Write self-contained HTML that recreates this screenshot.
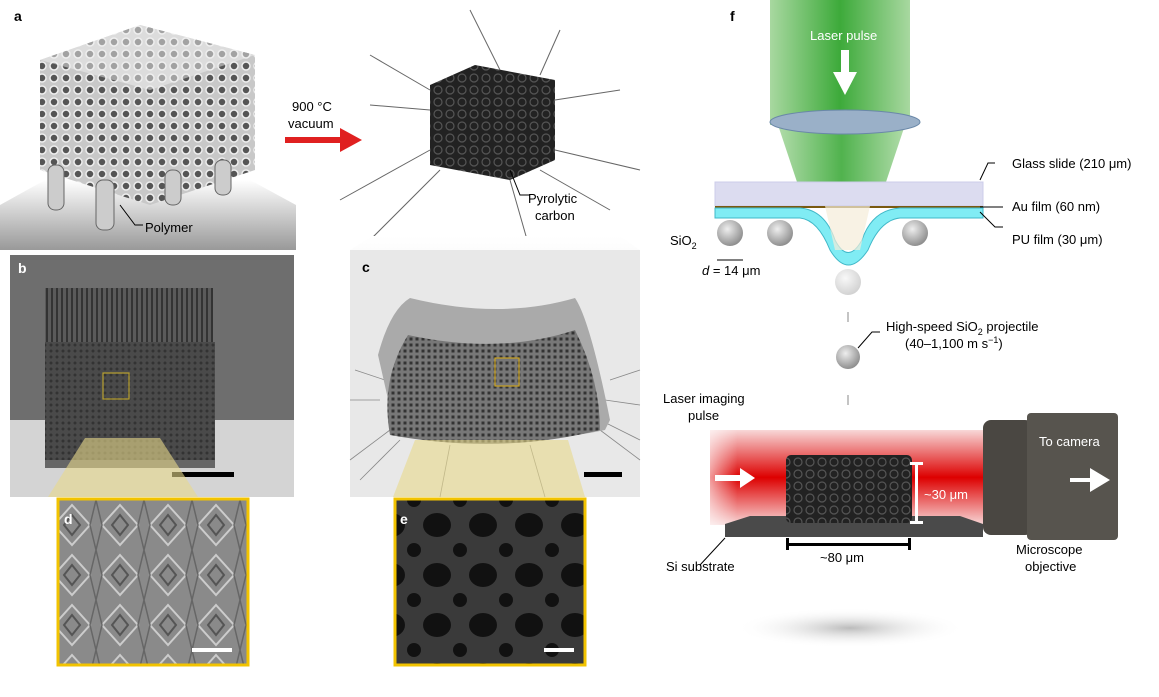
<!DOCTYPE html>
<html><head><meta charset="utf-8"><style>
html,body{margin:0;padding:0;background:#fff;}
svg{display:block;font-family:"Liberation Sans",Arial,sans-serif;}
</style></head><body>
<svg width="1159" height="697" viewBox="0 0 1159 697" xmlns="http://www.w3.org/2000/svg">
<defs>
<linearGradient id="fade" x1="0" y1="0" x2="0" y2="1"><stop offset="0" stop-color="#fff"/><stop offset="1" stop-color="#999"/></linearGradient>
<linearGradient id="fadec" x1="0" y1="0" x2="0" y2="1"><stop offset="0" stop-color="#fff"/><stop offset="1" stop-color="#ccc"/></linearGradient>
<linearGradient id="green" x1="0" y1="0" x2="1" y2="0"><stop offset="0" stop-color="#a8d8a0"/><stop offset="0.5" stop-color="#3daa3a"/><stop offset="1" stop-color="#a8d8a0"/></linearGradient>
<linearGradient id="red" x1="0" y1="0" x2="0" y2="1"><stop offset="0" stop-color="#f8d8d8"/><stop offset="0.5" stop-color="#dd0000"/><stop offset="1" stop-color="#f8d8d8"/></linearGradient>
<linearGradient id="redL" x1="0" y1="0" x2="1" y2="0"><stop offset="0" stop-color="#fff" stop-opacity="0.6"/><stop offset="0.1" stop-color="#fff" stop-opacity="0"/></linearGradient>
<radialGradient id="ball" cx="0.4" cy="0.35" r="0.7"><stop offset="0" stop-color="#eee"/><stop offset="1" stop-color="#888"/></radialGradient>
<radialGradient id="shadow" cx="0.5" cy="0.5" r="0.5"><stop offset="0" stop-color="#bbb"/><stop offset="1" stop-color="#fff" stop-opacity="0"/></radialGradient>
<pattern id="latL" width="12" height="12" patternUnits="userSpaceOnUse"><rect width="12" height="12" fill="#c8c8c8"/><circle cx="6" cy="6" r="4" fill="#555" stroke="#eee" stroke-width="1.5"/></pattern>
<pattern id="latD" width="6" height="6" patternUnits="userSpaceOnUse"><rect width="6" height="6" fill="#4a4a4a"/><circle cx="3" cy="3" r="1.5" fill="#333"/></pattern>
<pattern id="latV" width="5" height="6" patternUnits="userSpaceOnUse"><rect width="5" height="6" fill="#5a5a5a"/><rect x="1" width="2" height="6" fill="#333"/></pattern>
<pattern id="latK" width="12" height="12" patternUnits="userSpaceOnUse"><rect width="12" height="12" fill="#222"/><circle cx="6" cy="6" r="4" fill="none" stroke="#555" stroke-width="1.2"/></pattern>
<pattern id="latC" width="6" height="6" patternUnits="userSpaceOnUse"><rect width="6" height="6" fill="#777"/><rect x="1.5" y="1.5" width="3" height="3" fill="#333"/></pattern>
<pattern id="dpat" width="48" height="50" patternUnits="userSpaceOnUse"><rect width="48" height="50" fill="#8a8a8a"/><path d="M24 5 L42 25 L24 45 L6 25Z" fill="none" stroke="#ccc" stroke-width="2"/><path d="M24 15 L32 25 L24 35 L16 25Z" fill="none" stroke="#555" stroke-width="2"/><path d="M0 0 L6 25 L0 50 M48 0 L42 25 L48 50" fill="none" stroke="#666" stroke-width="1.5"/></pattern>
<pattern id="epat" width="46" height="50" patternUnits="userSpaceOnUse"><rect width="46" height="50" fill="#3a3a3a"/><ellipse cx="23" cy="25" rx="14" ry="12" fill="#111"/><ellipse cx="0" cy="0" rx="7" ry="7" fill="#111"/><ellipse cx="46" cy="0" rx="7" ry="7" fill="#111"/><ellipse cx="0" cy="50" rx="7" ry="7" fill="#111"/><ellipse cx="46" cy="50" rx="7" ry="7" fill="#111"/></pattern>
</defs>

<!-- panel a -->
<polygon points="0,250 296,250 296,205 250,180 45,180 0,205" fill="url(#fade)"/>
<polygon points="40,60 140,25 255,55 255,170 150,205 40,170" fill="url(#latL)"/>
<polygon points="40,60 140,25 255,55 150,90" fill="#f0f0f0" opacity="0.5"/>
<g fill="#ccc" stroke="#666"><rect x="48" y="165" width="16" height="45" rx="7"/><rect x="96" y="180" width="18" height="50" rx="7"/><rect x="215" y="160" width="16" height="35" rx="7"/><rect x="165" y="170" width="16" height="35" rx="7"/></g>
<text x="14" y="21" font-size="14" font-weight="bold">a</text>
<polyline points="120,205 135,225 143,225" fill="none" stroke="#000" stroke-width="1"/>
<text x="145" y="232" font-size="13">Polymer</text>

<text x="292" y="111" font-size="13">900 °C</text>
<text x="288" y="128" font-size="13">vacuum</text>
<polygon points="285,137 340,137 340,128 362,140 340,152 340,143 285,143" fill="#e02020"/>

<!-- black cube -->
<g stroke="#666" stroke-width="1">
<line x1="430" y1="90" x2="370" y2="55"/><line x1="500" y1="70" x2="470" y2="10"/><line x1="540" y1="75" x2="560" y2="30"/><line x1="555" y1="100" x2="620" y2="90"/><line x1="555" y1="150" x2="640" y2="170"/><line x1="440" y1="170" x2="370" y2="240"/><line x1="430" y1="150" x2="340" y2="200"/><line x1="510" y1="180" x2="530" y2="250"/><line x1="540" y1="170" x2="610" y2="210"/><line x1="430" y1="110" x2="370" y2="105"/></g>
<polygon points="430,85 475,65 555,80 555,160 510,180 430,165" fill="url(#latK)"/>
<polyline points="510,170 520,195 530,195" fill="none" stroke="#000"/>
<text x="528" y="203" font-size="13">Pyrolytic</text>
<text x="535" y="220" font-size="13">carbon</text>

<!-- panel b -->
<rect x="10" y="255" width="284" height="242" fill="#6e6e6e"/>
<rect x="10" y="420" width="284" height="77" fill="#d4d4d4"/>
<rect x="45" y="288" width="168" height="55" fill="url(#latV)"/>
<rect x="45" y="342" width="170" height="118" fill="url(#latD)"/>
<rect x="45" y="460" width="170" height="8" fill="#666"/>
<rect x="103" y="373" width="26" height="26" fill="none" stroke="#b8a030" stroke-width="1.2"/>
<rect x="172" y="472" width="62" height="5" fill="#000"/>
<polygon points="85,438 160,438 198,497 48,497" fill="#e8d88a" opacity="0.6"/>
<text x="18" y="273" font-size="14" font-weight="bold" fill="#fff">b</text>

<!-- panel c -->
<polygon points="350,250 350,497 640,497 640,250 620,236 372,236" fill="url(#fadec)"/>
<rect x="350" y="250" width="290" height="247" fill="#e8e8e8"/>
<g stroke="#888" stroke-width="0.8"><line x1="390" y1="430" x2="350" y2="460"/><line x1="400" y1="440" x2="360" y2="480"/><line x1="600" y1="430" x2="640" y2="460"/><line x1="600" y1="420" x2="640" y2="440"/><line x1="380" y1="400" x2="350" y2="400"/><line x1="610" y1="380" x2="640" y2="370"/><line x1="385" y1="380" x2="355" y2="370"/><line x1="605" y1="400" x2="640" y2="405"/><line x1="450" y1="445" x2="440" y2="497"/><line x1="530" y1="445" x2="545" y2="497"/></g>
<path d="M378,355 Q390,310 410,298 Q500,320 575,298 Q590,320 610,420 L605,430 Q510,450 395,430 Z" fill="#aaa"/>
<path d="M390,435 Q380,380 408,335 Q500,355 575,330 Q600,380 600,430 Q500,455 390,435Z" fill="url(#latC)"/>
<rect x="495" y="358" width="24" height="28" fill="none" stroke="#c8a020" stroke-width="1.2"/>
<rect x="584" y="472" width="38" height="5" fill="#000"/>
<polygon points="415,440 568,440 585,497 393,497" fill="#e8d88a" opacity="0.6"/>
<text x="362" y="272" font-size="14" font-weight="bold">c</text>

<!-- d -->
<rect x="58" y="499" width="190" height="166" fill="url(#dpat)" stroke="#f2c300" stroke-width="3"/>
<rect x="192" y="648" width="40" height="4" fill="#fff"/>
<text x="64" y="524" font-size="14" font-weight="bold" fill="#fff">d</text>
<!-- e -->
<rect x="395" y="499" width="190" height="166" fill="url(#epat)" stroke="#f2c300" stroke-width="3"/>
<rect x="544" y="648" width="30" height="4" fill="#fff"/>
<text x="400" y="524" font-size="14" font-weight="bold" fill="#fff">e</text>

<!-- panel f -->
<text x="730" y="21" font-size="14" font-weight="bold">f</text>
<rect x="770" y="0" width="140" height="125" fill="url(#green)"/>
<polygon points="778,125 905,125 880,200 803,200" fill="url(#green)" opacity="0.9"/>
<ellipse cx="845" cy="122" rx="75" ry="12" fill="#9ab0c8" stroke="#6a88a8"/>
<text x="810" y="40" font-size="13" fill="#fff">Laser pulse</text>
<polygon points="841,50 849,50 849,72 857,72 845,95 833,72 841,72" fill="#fff"/>
<rect x="715" y="182" width="268" height="24" fill="#dcdcf0" stroke="#ccccea"/>
<rect x="715" y="206" width="268" height="2" fill="#7a5a10"/>
<path d="M715,208 L800,208 Q825,210 835,240 Q848,265 862,240 Q872,210 900,208 L983,208 L983,218 L900,218 Q880,220 868,250 Q848,280 830,250 Q818,220 800,218 L715,218Z" fill="#80ecf4" stroke="#40b8c8"/>
<polygon points="825,206 870,206 860,250 835,250" fill="#f5ecd8" opacity="0.7"/>
<g fill="url(#ball)"><circle cx="730" cy="233" r="13"/><circle cx="780" cy="233" r="13"/><circle cx="915" cy="233" r="13"/><circle cx="848" cy="282" r="13" opacity="0.4"/><circle cx="848" cy="357" r="12"/><circle cx="848" cy="443" r="12" opacity="0.8"/></g>
<text x="670" y="245" font-size="13">SiO<tspan font-size="9" dy="4">2</tspan></text>
<line x1="717" y1="260" x2="743" y2="260" stroke="#000"/>
<text x="702" y="275" font-size="13"><tspan font-style="italic">d</tspan> = 14 μm</text>
<g stroke="#000" fill="none"><polyline points="995,163 988,163 980,180"/><line x1="980" y1="207" x2="1003" y2="207"/><polyline points="980,212 995,227 1003,227"/></g>
<text x="1012" y="168" font-size="13">Glass slide (210 μm)</text>
<text x="1012" y="211" font-size="13">Au film (60 nm)</text>
<text x="1012" y="244" font-size="13">PU film (30 μm)</text>
<g stroke="#888"><line x1="848" y1="312" x2="848" y2="322"/><line x1="848" y1="395" x2="848" y2="405"/></g>
<polyline points="880,332 872,332 858,348" fill="none" stroke="#000"/>
<text x="886" y="331" font-size="13">High-speed SiO<tspan font-size="9" dy="4">2</tspan><tspan dy="-4"> projectile</tspan></text>
<text x="905" y="348" font-size="13">(40–1,100 m s<tspan font-size="9" dy="-5">−1</tspan><tspan dy="5">)</tspan></text>
<text x="663" y="403" font-size="13">Laser imaging</text>
<text x="688" y="420" font-size="13">pulse</text>
<rect x="710" y="430" width="275" height="95" fill="url(#red)"/>
<rect x="710" y="430" width="275" height="95" fill="url(#redL)"/>
<polygon points="715,475 740,475 740,468 755,478 740,488 740,481 715,481" fill="#fff"/>
<polygon points="750,516 960,516 983,524 983,537 725,537 725,524" fill="#4a4a4a"/>
<rect x="786" y="455" width="126" height="68" rx="5" fill="url(#latK)"/>
<rect x="915" y="462" width="3" height="62" fill="#fff"/><rect x="910" y="462" width="13" height="3" fill="#fff"/><rect x="910" y="521" width="13" height="3" fill="#fff"/>
<text x="924" y="499" font-size="13" fill="#fff">~30 μm</text>
<rect x="786" y="543" width="125" height="3" fill="#000"/><rect x="786" y="538" width="3" height="12" fill="#000"/><rect x="908" y="538" width="3" height="12" fill="#000"/>
<text x="820" y="562" font-size="13">~80 μm</text>
<line x1="725" y1="538" x2="700" y2="565" stroke="#000"/>
<text x="666" y="571" font-size="13">Si substrate</text>
<rect x="983" y="420" width="50" height="115" rx="8" fill="#4a4742"/>
<rect x="1027" y="413" width="91" height="127" rx="4" fill="#57544e"/>
<text x="1039" y="446" font-size="13" fill="#fff">To camera</text>
<polygon points="1070,478 1090,478 1090,468 1110,480 1090,492 1090,482 1070,482" fill="#fff"/>
<text x="1016" y="554" font-size="13">Microscope</text>
<text x="1025" y="571" font-size="13">objective</text>
<ellipse cx="850" cy="628" rx="115" ry="20" fill="url(#shadow)"/>
</svg>
</body></html>
